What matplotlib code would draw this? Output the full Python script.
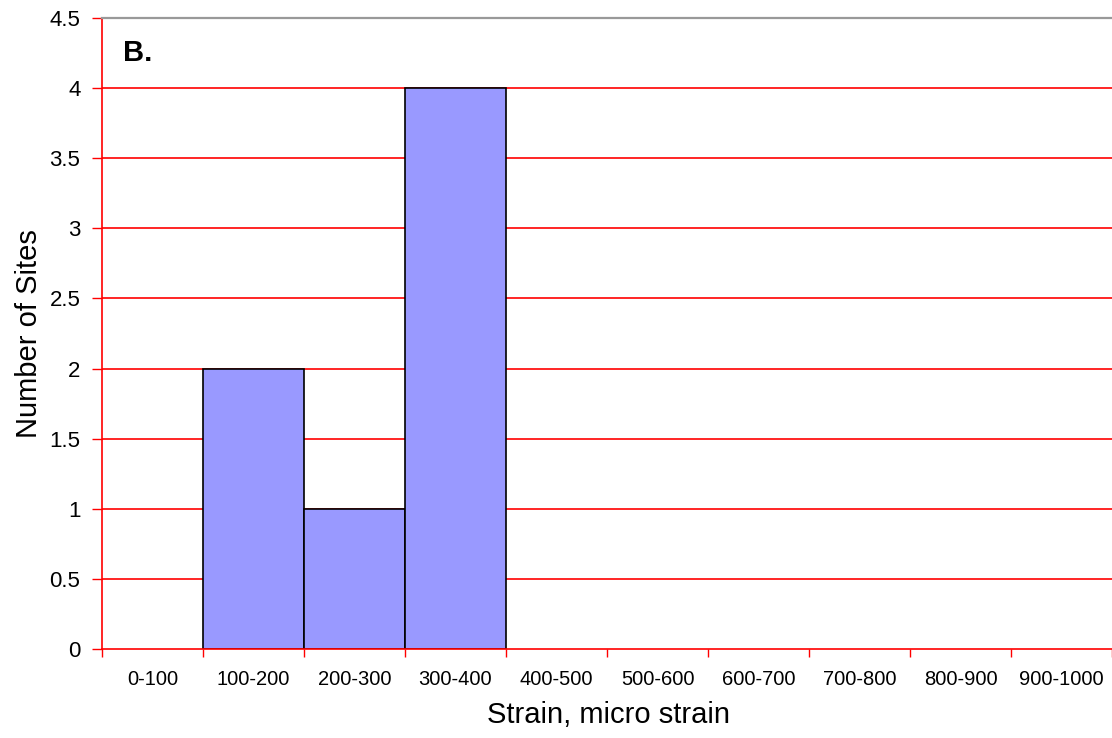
import matplotlib
matplotlib.use("Agg")
import matplotlib.pyplot as plt
import numpy as np

categories = ["0-100", "100-200", "200-300", "300-400", "400-500",
              "500-600", "600-700", "700-800", "800-900", "900-1000"]
counts = [0, 2, 1, 4, 0, 0, 0, 0, 0, 0]
yticks = [0, 0.5, 1, 1.5, 2, 2.5, 3, 3.5, 4, 4.5]
ytick_labels = ["0", "0.5", "1", "1.5", "2", "2.5", "3", "3.5", "4", "4.5"]

plt.rcParams['font.family'] = ['Liberation Sans', 'DejaVu Sans']

fig = plt.figure(figsize=(11.12, 7.38), dpi=100)
ax = fig.add_axes([102/1112, 89/738, 1010/1112, 631/738])

x = np.arange(len(categories))
for xi, c in zip(x, counts):
    if c > 0:
        ax.bar(xi, c, width=1.0, color="#9999FF", edgecolor="black",
               linewidth=1.2, zorder=3)

ax.set_xlim(-0.5, len(categories) - 0.5)
ax.set_ylim(0, 4.5)

ax.set_yticks(yticks)
ax.set_yticklabels(ytick_labels, fontsize=16)
ax.set_xticks(x)
ax.set_xticklabels(categories, fontsize=14.5)
ax.tick_params(axis='x', length=0, pad=15)
ax.set_xticks(np.arange(-0.5, len(categories) - 0.4, 1.0), minor=True)
ax.tick_params(axis='x', which='minor', length=6, width=1, color='red')
ax.tick_params(axis='y', length=7, width=1, color='red', pad=8.5)

for yv in yticks[1:-1]:
    ax.axhline(yv, color='red', linewidth=1.2, zorder=1)

ax.spines['right'].set_visible(False)
ax.spines['top'].set_color('#999999')
ax.spines['top'].set_linewidth(1.6)
ax.spines['left'].set_color('red')
ax.spines['left'].set_linewidth(1.2)
ax.spines['bottom'].set_color('red')
ax.spines['bottom'].set_linewidth(1.2)
ax.spines['bottom'].set_zorder(4)

ax.set_xlabel("Strain, micro strain", fontsize=21)
ax.set_ylabel("Number of Sites", fontsize=21)
ax.xaxis.set_label_coords(0.501, -0.082)
ax.yaxis.set_label_coords(-0.058, 0.5)

ax.text(0.021, 0.932, "B.", transform=ax.transAxes, fontsize=21,
        fontweight='bold', ha='left', va='baseline')

fig.savefig("out.png", dpi=100)
